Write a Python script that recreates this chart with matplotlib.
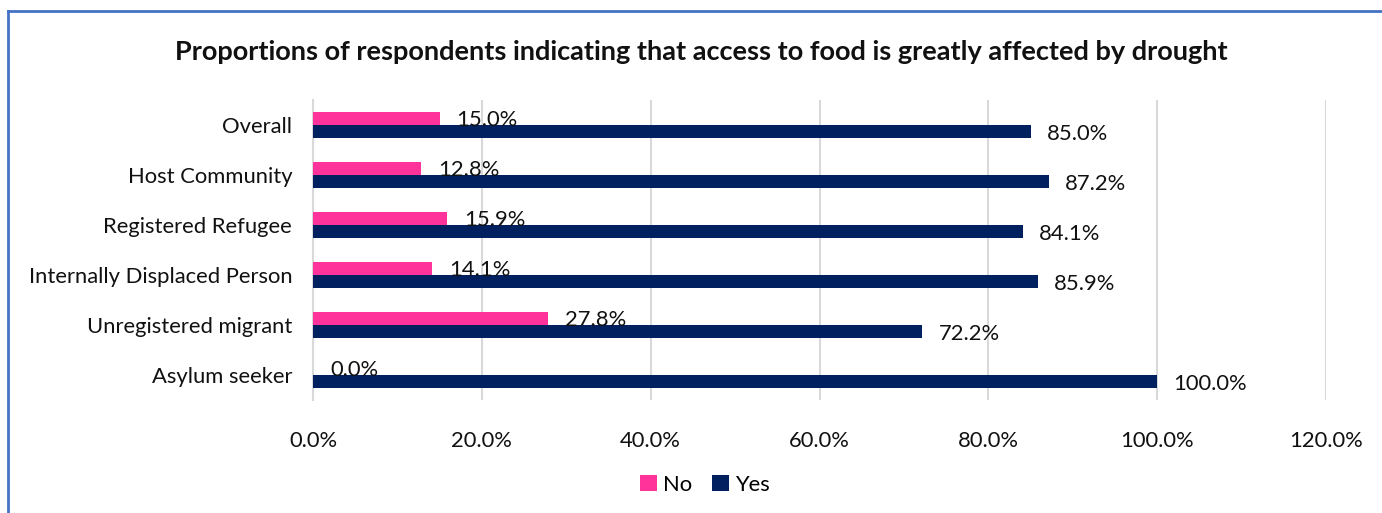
import matplotlib
matplotlib.use("Agg")
import matplotlib.pyplot as plt
import numpy as np

categories = ["Overall", "Host Community", "Registered Refugee",
              "Internally Displaced Person", "Unregistered migrant", "Asylum seeker"]
no_vals = [15.0, 12.8, 15.9, 14.1, 27.8, 0.0]
yes_vals = [85.0, 87.2, 84.1, 85.9, 72.2, 100.0]
xticks = [0, 20, 40, 60, 80, 100, 120]
title = "Proportions of respondents indicating that access to food is greatly affected by drought"

PINK = "#FF3399"
NAVY = "#002060"

plt.rcParams['font.family'] = ['Lato', 'DejaVu Sans']
FS = 15.8

fig = plt.figure(figsize=(13.82, 5.13), dpi=100)
ax = fig.add_axes([313/1382, 1-400/513, (1326-313)/1382, 300/513])

y = np.arange(len(categories))
h = 0.26
ax.barh(y - h/2, no_vals, height=h, color=PINK, label="No", zorder=3)
ax.barh(y + h/2, yes_vals, height=h, color=NAVY, label="Yes", zorder=3)

for yi, v in zip(y, no_vals):
    ax.text(v + 2.0, yi - h/2 + 0.03, f"{v:.1f}%", va="center", ha="left",
            fontsize=FS, color="#111111", zorder=4)
for yi, v in zip(y, yes_vals):
    ax.text(v + 1.9, yi + h/2 + 0.05, f"{v:.1f}%", va="center", ha="left",
            fontsize=FS, color="#111111", zorder=4)

ax.set_xlim(0, 120)
ax.set_ylim(len(categories) - 0.5, -0.5)
ax.set_xticks(xticks)
ax.set_xticklabels([f"{t:.1f}%" for t in xticks], fontsize=FS)
ax.set_yticks(y)
ax.set_yticklabels(categories, fontsize=FS)
ax.tick_params(axis='both', length=0, colors="#111111")
ax.tick_params(axis='x', pad=22)
ax.tick_params(axis='y', pad=15)
ax.grid(axis='x', color="#D9D9D9", linewidth=1.5, zorder=0)
for s in ["top", "right", "bottom"]:
    ax.spines[s].set_visible(False)
ax.spines["left"].set_color("#D9D9D9")
ax.spines["left"].set_linewidth(1.5)

fig.text(701/1382, 1-52/513, title, ha="center", va="center",
         fontsize=19.5, fontweight="bold", color="#111111")

leg = fig.legend(loc="center", bbox_to_anchor=(705/1382, 1-485/513), ncol=2,
                 frameon=False, fontsize=FS, handlelength=0.75, handleheight=0.75,
                 handletextpad=0.3, columnspacing=0.9)

# Border (top and left visible)
fig.add_artist(plt.Line2D([8/1382, 8/1382], [0, 1-11/513], transform=fig.transFigure,
                          color="#4472C4", linewidth=2))
fig.add_artist(plt.Line2D([8/1382, 1], [1-11/513, 1-11/513], transform=fig.transFigure,
                          color="#4472C4", linewidth=2))

fig.savefig("out.png", dpi=100)
